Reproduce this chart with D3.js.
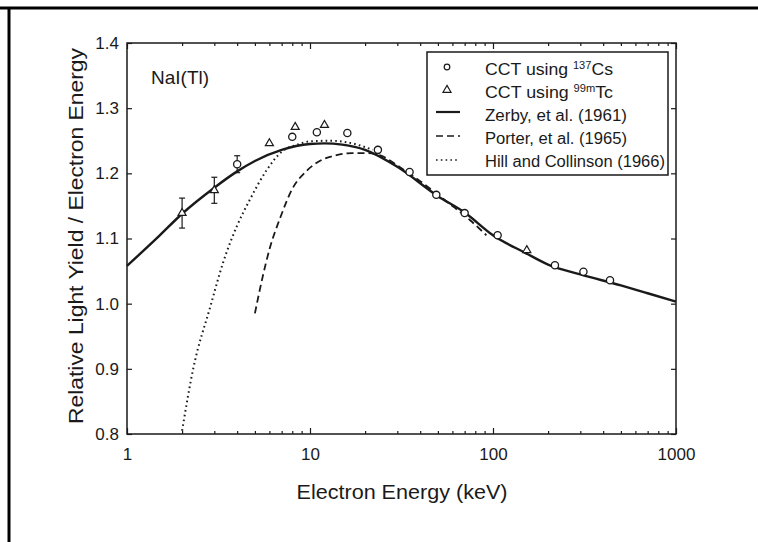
<!DOCTYPE html>
<html>
<head>
<meta charset="utf-8">
<script src="https://cdn.jsdelivr.net/npm/d3@7"></script>
<style>
  body { margin: 0; background: #fff; }
  svg { display: block; font-family: "Liberation Sans", Arial, sans-serif; }
</style>
</head>
<body>
<svg width="758" height="542"></svg>
<script>
// measured points, 137Cs (circles)
const csEnergy = [4, 8, 10.9, 16, 23.5, 35, 49, 70, 106, 218, 312, 436];
const csYield  = [1.214, 1.256, 1.263, 1.262, 1.236, 1.202, 1.167, 1.139, 1.105, 1.059, 1.049, 1.036];
const csError  = [0.013, 0, 0, 0, 0, 0, 0, 0, 0, 0, 0, 0];

// measured points, 99mTc (triangles)
const tcEnergy = [2, 3, 6, 8.3, 12, 153];
const tcYield  = [1.139, 1.174, 1.246, 1.271, 1.274, 1.082];
const tcError  = [0.023, 0.02, 0, 0, 0, 0];

// Zerby, et al. (1961)
const zerbyEnergy = [1, 1.5, 2, 3, 4, 5, 7, 10, 12, 15, 20, 30, 50, 70, 100, 150, 200, 300, 500, 700, 1000];
const zerbyYield  = [1.058, 1.104, 1.138, 1.178, 1.203, 1.219, 1.236, 1.245, 1.246, 1.244, 1.236, 1.210,
                     1.165, 1.140, 1.105, 1.078, 1.060, 1.045, 1.028, 1.016, 1.003];

// Porter, et al. (1965)
const porterEnergy = [5, 5.5, 6, 6.9, 8, 9.6, 11.3, 14, 17, 20.5, 25, 30, 40, 50, 60, 75, 92];
const porterYield  = [0.985, 1.04, 1.083, 1.133, 1.176, 1.204, 1.219, 1.228, 1.231, 1.231, 1.226,
                      1.212, 1.188, 1.167, 1.150, 1.128, 1.105];

// Hill and Collinson (1966)
const hillEnergy = [2, 2.3, 2.85, 3.35, 4, 4.7, 5.8, 7, 8.5, 10, 13, 17, 22];
const hillYield  = [0.805, 0.9, 0.995, 1.063, 1.12, 1.16, 1.205, 1.233, 1.244, 1.249, 1.250, 1.246, 1.236];

const xMajor = [1, 10, 100, 1000];
const yTicks = [0.8, 0.9, 1.0, 1.1, 1.2, 1.3, 1.4];

const svg = d3.select("svg");
const ink = "#1a1a1a";

// page border (top and left only)
svg.append("line").attr("x1", 0).attr("x2", 758).attr("y1", 8).attr("y2", 8)
    .attr("stroke", "#000").attr("stroke-width", 3);
svg.append("line").attr("x1", 9).attr("x2", 9).attr("y1", 7).attr("y2", 542)
    .attr("stroke", "#000").attr("stroke-width", 3);

const x = d3.scaleLog().domain([1, 1000]).range([127, 676]);
const y = d3.scaleLinear().domain([0.8, 1.4]).range([434, 43]);

// minor tick values for log axis
const xMinor = [];
for (const d of [1, 10, 100]) for (let k = 2; k <= 9; k++) xMinor.push(d * k);

function styleAxis(g) {
    g.select(".domain").remove();
    g.selectAll("line").attr("stroke", ink).attr("stroke-width", 1.2);
    g.selectAll("text").attr("fill", ink).attr("font-size", 17);
}

// bottom axis
svg.append("g").attr("transform", "translate(0,434)")
    .call(d3.axisBottom(x).tickValues(xMajor).tickFormat(d3.format("d")).tickSizeInner(-6).tickSizeOuter(0).tickPadding(14))
    .call(styleAxis);
svg.append("g").attr("transform", "translate(0,434)")
    .call(d3.axisBottom(x).tickValues(xMinor).tickFormat("").tickSizeInner(-3).tickSizeOuter(0))
    .call(styleAxis);
// top axis
svg.append("g").attr("transform", "translate(0,43)")
    .call(d3.axisTop(x).tickValues(xMajor).tickFormat("").tickSizeInner(-6).tickSizeOuter(0))
    .call(styleAxis);
svg.append("g").attr("transform", "translate(0,43)")
    .call(d3.axisTop(x).tickValues(xMinor).tickFormat("").tickSizeInner(-3).tickSizeOuter(0))
    .call(styleAxis);
// left axis
svg.append("g").attr("transform", "translate(127,0)")
    .call(d3.axisLeft(y).tickValues(yTicks).tickFormat(d3.format(".1f")).tickSizeInner(-5).tickSizeOuter(0).tickPadding(8))
    .call(styleAxis);
// right axis
svg.append("g").attr("transform", "translate(676,0)")
    .call(d3.axisRight(y).tickValues(yTicks).tickFormat("").tickSizeInner(-5).tickSizeOuter(0))
    .call(styleAxis);

// frame
svg.append("rect").attr("x", 127).attr("y", 43).attr("width", 676 - 127).attr("height", 434 - 43)
    .attr("fill", "none").attr("stroke", ink).attr("stroke-width", 1.5);

// axis titles
svg.append("text").attr("x", 402).attr("y", 499).attr("text-anchor", "middle")
    .attr("font-size", 20).attr("fill", ink)
    .attr("textLength", 211).attr("lengthAdjust", "spacingAndGlyphs")
    .text("Electron Energy (keV)");
svg.append("text").attr("transform", "translate(83,236) rotate(-90)").attr("text-anchor", "middle")
    .attr("font-size", 20).attr("fill", ink)
    .attr("textLength", 376).attr("lengthAdjust", "spacingAndGlyphs")
    .text("Relative Light Yield / Electron Energy");

svg.append("text").attr("x", 151).attr("y", 84).attr("font-size", 19).attr("fill", ink).text("NaI(Tl)");

// curves
const line = d3.line().x(d => x(d[0])).y(d => y(d[1])).curve(d3.curveMonotoneX);
const plot = svg.append("g");

plot.append("path").datum(d3.zip(hillEnergy, hillYield)).attr("d", line)
    .attr("fill", "none").attr("stroke", ink).attr("stroke-width", 2).attr("stroke-dasharray", "1.6,3.2");
plot.append("path").datum(d3.zip(porterEnergy, porterYield)).attr("d", line)
    .attr("fill", "none").attr("stroke", ink).attr("stroke-width", 1.8).attr("stroke-dasharray", "7,4");
plot.append("path").datum(d3.zip(zerbyEnergy, zerbyYield)).attr("d", line)
    .attr("fill", "none").attr("stroke", ink).attr("stroke-width", 2.4);

// error bars
function errorBars(es, ys, errs) {
    const rows = d3.zip(es, ys, errs).filter(d => d[2] > 0);
    const g = plot.append("g").attr("stroke", ink).attr("stroke-width", 1.2);
    g.selectAll(".bar").data(rows).join("line")
        .attr("x1", d => x(d[0])).attr("x2", d => x(d[0]))
        .attr("y1", d => y(d[1] - d[2])).attr("y2", d => y(d[1] + d[2]));
    g.selectAll(".capTop").data(rows).join("line")
        .attr("x1", d => x(d[0]) - 3).attr("x2", d => x(d[0]) + 3)
        .attr("y1", d => y(d[1] + d[2])).attr("y2", d => y(d[1] + d[2]));
    g.selectAll(".capBot").data(rows).join("line")
        .attr("x1", d => x(d[0]) - 3).attr("x2", d => x(d[0]) + 3)
        .attr("y1", d => y(d[1] - d[2])).attr("y2", d => y(d[1] - d[2]));
}
errorBars(csEnergy, csYield, csError);
errorBars(tcEnergy, tcYield, tcError);

// markers
plot.selectAll(".cs").data(d3.zip(csEnergy, csYield)).join("circle")
    .attr("cx", d => x(d[0])).attr("cy", d => y(d[1])).attr("r", 3.6)
    .attr("fill", "#fff").attr("stroke", ink).attr("stroke-width", 1.3);
const tri = d3.symbol().type(d3.symbolTriangle).size(28);
plot.selectAll(".tc").data(d3.zip(tcEnergy, tcYield)).join("path")
    .attr("transform", d => `translate(${x(d[0])},${y(d[1])})`).attr("d", tri)
    .attr("fill", "#fff").attr("stroke", ink).attr("stroke-width", 1.2);

// legend
const legend = svg.append("g");
legend.append("rect").attr("x", 427).attr("y", 52).attr("width", 241).attr("height", 123)
    .attr("fill", "#fff").attr("stroke", ink).attr("stroke-width", 1.5);
const rowY = [70, 93, 116, 139, 162];
const rowWidth = [128, 128, 142, 142, 180];
const textX = 485;
legend.append("circle").attr("cx", 447).attr("cy", rowY[0] - 3).attr("r", 2.8)
    .attr("fill", "#fff").attr("stroke", ink).attr("stroke-width", 1.2);
legend.append("path").attr("transform", `translate(447,${rowY[1] - 3})`).attr("d", tri)
    .attr("fill", "#fff").attr("stroke", ink).attr("stroke-width", 1.2);
legend.append("line").attr("x1", 436).attr("x2", 460).attr("y1", rowY[2] - 4).attr("y2", rowY[2] - 4)
    .attr("stroke", ink).attr("stroke-width", 2.2);
legend.append("line").attr("x1", 436).attr("x2", 460).attr("y1", rowY[3] - 3).attr("y2", rowY[3] - 3)
    .attr("stroke", ink).attr("stroke-width", 1.6).attr("stroke-dasharray", "7,4");
legend.append("line").attr("x1", 436).attr("x2", 460).attr("y1", rowY[4] - 2).attr("y2", rowY[4] - 2)
    .attr("stroke", ink).attr("stroke-width", 1.6).attr("stroke-dasharray", "1.6,3.2");

function legendText(i, parts) {
    const t = legend.append("text").attr("x", textX).attr("y", rowY[i] + 5)
        .attr("font-size", 16).attr("fill", ink)
        .attr("textLength", rowWidth[i]).attr("lengthAdjust", "spacingAndGlyphs");
    for (const p of parts) {
        const s = t.append("tspan").text(p.text);
        if (p.sup) s.attr("font-size", 10).attr("dy", -6);
        if (p.down) s.attr("dy", 6);
    }
}
legendText(0, [{ text: "CCT using " }, { text: "137", sup: true }, { text: "Cs", down: true }]);
legendText(1, [{ text: "CCT using " }, { text: "99m", sup: true }, { text: "Tc", down: true }]);
legendText(2, [{ text: "Zerby, et al. (1961)" }]);
legendText(3, [{ text: "Porter, et al. (1965)" }]);
legendText(4, [{ text: "Hill and Collinson (1966)" }]);
</script>
</body>
</html>
